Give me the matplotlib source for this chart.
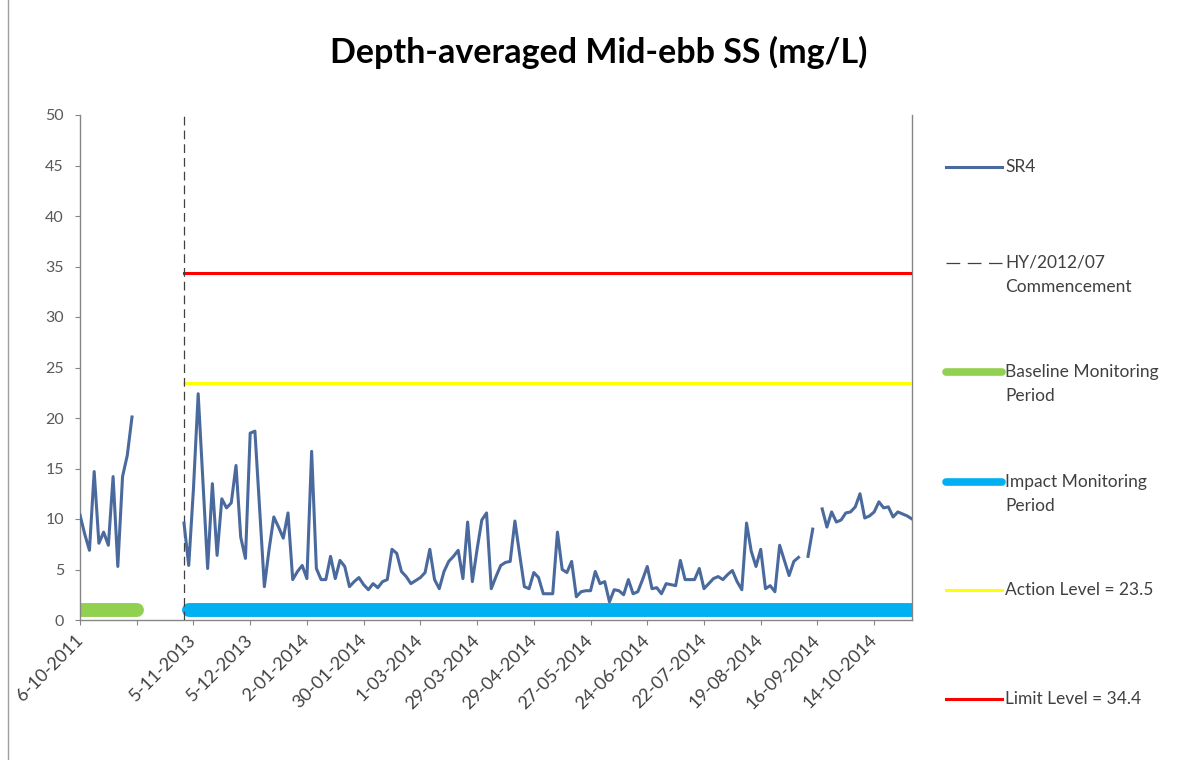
import matplotlib
matplotlib.use("Agg")
import matplotlib.pyplot as plt
import numpy as np
from matplotlib.lines import Line2D

plt.rcParams['font.family'] = ['Lato', 'DejaVu Sans']

W, H = 1187, 760

# data - one slot per survey day on an Excel style category axis
baseline_ss = [10.4, 8.5, 6.9, 14.7, 7.6, 8.7, 7.4, 14.2, 5.3, 14.2, 16.3, 20.1]
impact_ss = [9.6, 5.4, 13.0, 22.4, 13.8, 5.1, 13.5, 6.4, 12.0, 11.1,
             11.6, 15.3, 8.2, 6.1, 18.5, 18.7, 11.0, 3.3, 7.0, 10.2,
             9.2, 8.1, 10.6, 4.0, 4.8, 5.4, 4.1, 16.7, 5.1, 4.0,
             4.0, 6.3, 4.1, 5.9, 5.3, 3.3, 3.8, 4.2, 3.5, 3.0,
             3.6, 3.2, 3.8, 4.0, 7.0, 6.6, 4.8, 4.3, 3.6, 3.9,
             4.2, 4.7, 7.0, 4.0, 3.1, 4.8, 5.8, 6.3, 6.9, 4.1,
             9.7, 3.8, 7.0, 9.9, 10.6, 3.1, 4.3, 5.4, 5.7, 5.8,
             9.8, 6.5, 3.3, 3.1, 4.7, 4.2, 2.6, 2.6, 2.6, 8.7,
             5.0, 4.7, 5.8, 2.3, 2.8, 2.9, 2.9, 4.8, 3.6, 3.8,
             1.8, 3.0, 2.9, 2.5, 4.0, 2.6, 2.8, 4.0, 5.3, 3.1,
             3.2, 2.6, 3.6, 3.5, 3.4, 5.9, 4.0, 4.0, 4.0, 5.1,
             3.1, 3.6, 4.1, 4.3, 4.0, 4.5, 4.9, 3.8, 3.0, 9.6,
             6.8, 5.3, 7.0, 3.1, 3.4, 2.8, 7.4, 5.9, 4.4, 5.8,
             6.2, np.nan, 6.3, 9.0, np.nan, 11.0, 9.2, 10.7, 9.7, 9.9,
             10.6, 10.7, 11.2, 12.5, 10.1, 10.3, 10.7, 11.7, 11.1, 11.2,
             10.2, 10.7, 10.5, 10.3, 10.0]
impact_start = 22          # first impact survey slot (HY/2012/07 commencement)
n_cat = impact_start + len(impact_ss)

tick_labels = ["6-10-2011", "", "5-11-2013", "5-12-2013", "2-01-2014", "30-01-2014",
               "1-03-2014", "29-03-2014", "29-04-2014", "27-05-2014", "24-06-2014",
               "22-07-2014", "19-08-2014", "16-09-2014", "14-10-2014"]
tick_every = 12

action_level = 23.5
limit_level = 34.4
period_flag = 1

# styles
c_sr4 = '#4A6A9E'
c_base = '#92D050'
c_imp = '#00B0F0'
c_act = '#FFFF00'
c_lim = '#FF0000'
c_dash = '#404040'
c_axis = '#868686'

ss = np.full(n_cat, np.nan)
ss[:len(baseline_ss)] = baseline_ss
ss[impact_start:] = impact_ss
x = np.arange(n_cat)
imp_x = x[impact_start:]

fig = plt.figure(figsize=(W / 100, H / 100), dpi=100)
ax = fig.add_axes([80 / W, 1 - 620 / H, 832 / W, 505 / H])

#period bars along the bottom
ax.plot(np.arange(len(baseline_ss) + 1), [period_flag] * (len(baseline_ss) + 1),
        color=c_base, lw=10, solid_capstyle='round', zorder=2)
ax.plot(imp_x[1:], [period_flag] * len(imp_x[1:]), color=c_imp, lw=10,
        solid_capstyle='round', zorder=2)

ax.plot(imp_x, [action_level] * len(imp_x), color=c_act, lw=2.2, zorder=3)
ax.plot(imp_x, [limit_level] * len(imp_x), color=c_lim, lw=2.2, zorder=3)
ax.axvline(impact_start, color=c_dash, lw=0.9, ls=(0, (7, 4)), zorder=3)
ax.plot(x, ss, color=c_sr4, lw=2.2, zorder=4)

ax.set_xlim(0, n_cat - 1)
ax.set_ylim(0, 50)
ax.set_yticks(range(0, 51, 5))
ax.set_xticks(np.arange(0, n_cat, tick_every)[:len(tick_labels)])
ax.set_xticklabels(tick_labels, rotation=45, ha='right', va='center',
                   rotation_mode='anchor')

for s in ['left', 'bottom', 'right']:
    ax.spines[s].set_color(c_axis)
    ax.spines[s].set_linewidth(1)
ax.spines['top'].set_visible(False)
ax.tick_params(axis='both', direction='out', length=3.6, color=c_axis,
               labelcolor='#595959', labelsize=12)
ax.tick_params(axis='x', pad=9, labelcolor='#404040', labelsize=13)
ax.tick_params(axis='y', pad=8, labelsize=11.5)

fig.text(599 / W, 1 - 52 / H, "Depth-averaged Mid-ebb SS (mg/L)", ha='center',
         va='center', fontsize=24.5, fontweight='bold', color='black')

# chart area border (left edge)
fig.add_artist(Line2D([8 / W, 8 / W], [0, 1], color='#A0A0A0', lw=1))

# legend on the right, Excel style
def px(xp, yp):
    return xp / W, 1 - yp / H

legend = [
    (["SR4"], 167, dict(color=c_sr4, lw=2.2)),
    (["HY/2012/07", "Commencement"], 263, dict(color=c_dash, lw=0.9, ls=(0, (11, 6)))),
    (["Baseline Monitoring", "Period"], 372, dict(color=c_base, lw=5.5, solid_capstyle='round')),
    (["Impact Monitoring", "Period"], 482, dict(color=c_imp, lw=5.5, solid_capstyle='round')),
    (["Action Level = 23.5"], 590, dict(color=c_act, lw=2.2)),
    (["Limit Level = 34.4"], 699, dict(color=c_lim, lw=2.2)),
]
for lines, yp, style in legend:
    x0, y0 = px(946, yp)
    x1, _ = px(1002, yp)
    fig.add_artist(Line2D([x0, x1], [y0, y0], **style))
    for i, t in enumerate(lines):
        tx, ty = px(1005, yp + 24 * i)
        fig.text(tx, ty, t, ha='left', va='center', fontsize=12.5, color='#404040')

fig.savefig("out.png", dpi=100)
